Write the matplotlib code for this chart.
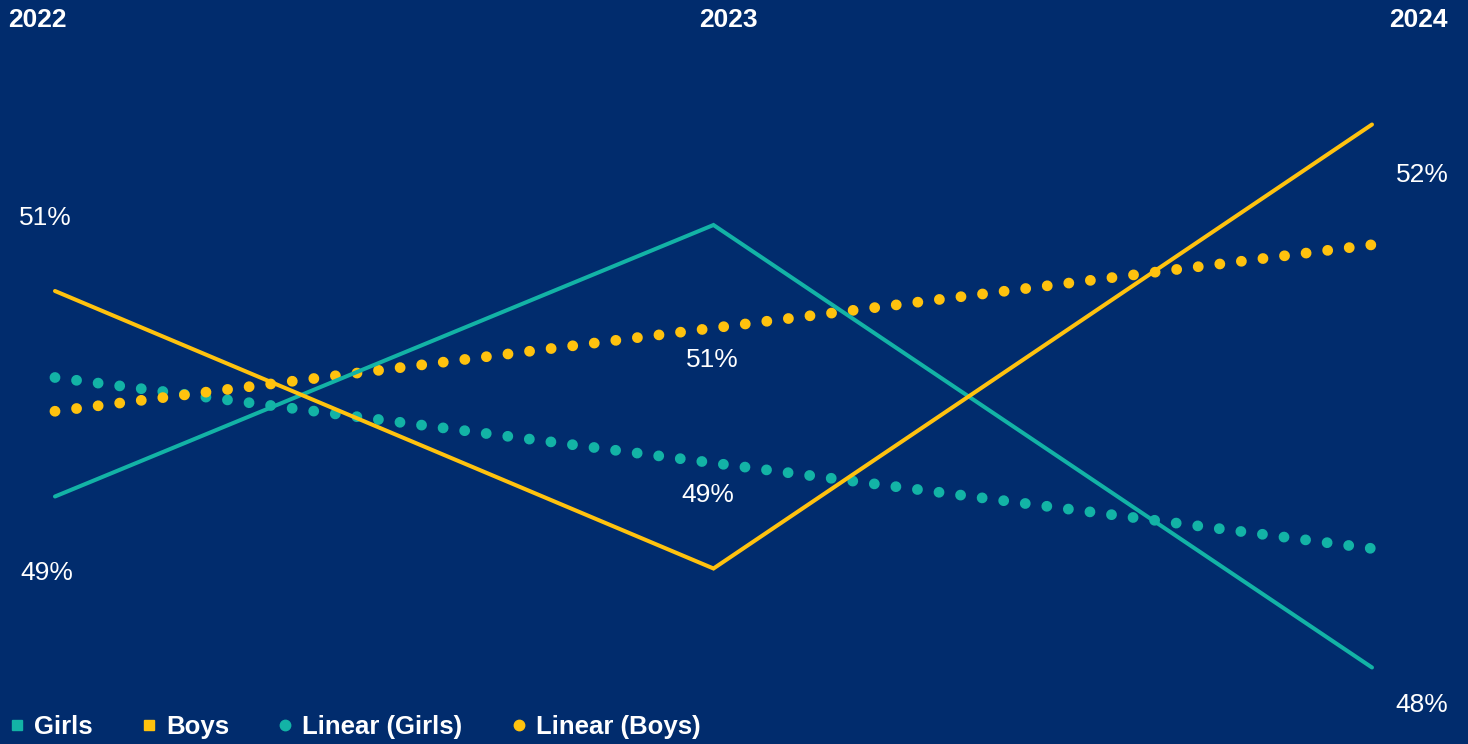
import numpy as np
import matplotlib.pyplot as plt
from matplotlib.lines import Line2D

# share of pupils by year (percent)
years = ['2022', '2023', '2024']
girls = [49.33, 51.14, 48.19]
boys = [50.70, 48.85, 51.81]
girls_labels = ['49%', '51%', '48%']
boys_labels = ['51%', '49%', '52%']

BG = '#012C6D'
TEAL = '#13B3A6'
GOLD = '#FFC20E'
WHITE = '#FFFFFF'

plt.rcParams['font.family'] = ['Liberation Sans', 'DejaVu Sans']

fig = plt.figure(figsize=(14.68, 7.44), dpi=100, facecolor=BG)
ax = fig.add_axes([0, 0, 1, 1])
ax.set_facecolor(BG)
ax.set_xlim(-0.0835, 2.1458)
ax.set_ylim(47.68, 52.64)
ax.axis('off')

x = np.arange(len(years))

# linear trend lines, fitted like a spreadsheet trendline
def trend(vals):
    slope, icpt = np.polyfit(x, vals, 1)
    return icpt + slope * x

# gap chosen so 61 dots fit the length of each trend line
dot_style = dict(lw=7.8, linestyle=(0, (0.001, 2.006)), dash_capstyle='round')
ax.plot(x, trend(girls), color=TEAL, **dot_style, zorder=2)
ax.plot(x, trend(boys), color=GOLD, **dot_style, zorder=2)

line_style = dict(lw=2.9, solid_capstyle='round', solid_joinstyle='miter')
ax.plot(x, girls, color=TEAL, **line_style, zorder=3)
ax.plot(x, boys, color=GOLD, **line_style, zorder=3)

# value labels, offsets in pixels (converted to points)
girls_off = [(-8, -76), (-1, -135), (50, -37)]
boys_off = [(-10, 73), (-6, 74), (50, -51)]
for i in range(len(years)):
    for vals, labs, offs in ((girls, girls_labels, girls_off), (boys, boys_labels, boys_off)):
        dx, dy = offs[i]
        ax.annotate(labs[i], (x[i], vals[i]), xytext=(dx * 0.72, dy * 0.72),
                    textcoords='offset points', ha='center', va='center',
                    color=WHITE, fontsize=19)

# year headings along the top
year_pos = [(8 / 1468, 'left'), (728 / 1468, 'center'), (1448 / 1468, 'right')]
for yr, (px, ha) in zip(years, year_pos):
    fig.text(px, 1 - 20 / 744, yr, ha=ha, va='center', color=WHITE,
             fontsize=19, fontweight='bold')

handles = [
    Line2D([], [], ls='none', marker='s', ms=6.5, color=TEAL, label='Girls'),
    Line2D([], [], ls='none', marker='s', ms=6.5, color=GOLD, label='Boys'),
    Line2D([], [], ls='none', marker='o', ms=7.5, color=TEAL, label='Linear (Girls)'),
    Line2D([], [], ls='none', marker='o', ms=7.5, color=GOLD, label='Linear (Boys)'),
]
leg = fig.legend(handles=handles, loc='lower left', bbox_to_anchor=(-0.004, -0.014),
                 ncol=4, frameon=False, fontsize=18.5, handlelength=0.6,
                 handletextpad=0.35, columnspacing=1.9, borderaxespad=0.2,
                 prop={'weight': 'bold', 'size': 18.5})
for t in leg.get_texts():
    t.set_color(WHITE)

fig.savefig('out.png', dpi=100, facecolor=BG)
